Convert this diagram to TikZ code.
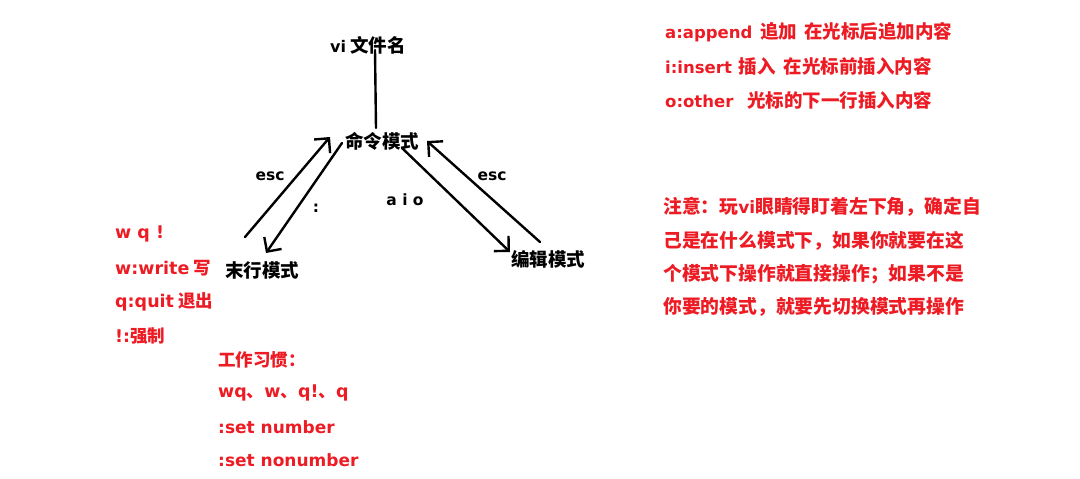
\documentclass[tikz,border=0pt]{standalone}
\usepackage{fontspec}
\setmainfont{Noto Sans CJK SC}
\newfontfamily\latfont{DejaVu Sans Bold}
\newcommand{\LT}[1]{{\latfont #1}}
\newcommand{\LTS}[2]{{\latfont\fontsize{#1}{20}\selectfont #2}}
\usetikzlibrary{arrows.meta}
\definecolor{pred}{HTML}{ED1C24}
\tikzset{
  blk/.style={inner sep=0pt, font=\fontsize{18.5}{20}\selectfont\bfseries, text=black},
  lbl/.style={inner sep=0pt, font=\fontsize{15.5}{20}\selectfont\bfseries, text=black},
  rtxt/.style={inner sep=0pt, anchor=west, font=\fontsize{#1}{20}\selectfont\bfseries, text=pred},
  rtxt/.default=17,
  pen/.style={line width=2.4pt, line cap=round, black},
  arr/.style={pen, -{Straight Barb[length=10.5pt,width=21pt,line width=2.4pt]}}
}
\begin{document}
\begin{tikzpicture}[x=1pt,y=-1pt]
\useasboundingbox[fill=white] (0,0) rectangle (1080,479);

% nodes
\node[blk] (vi) at (368,45) {\LTS{16}{vi} 文件名};
\node[blk] (cmd) at (382,141) {命令模式};
\node[blk] (last) at (262,270) {末行模式};
\node[blk] (edit) at (548,259) {编辑模式};

% helper coordinates
\coordinate (v1) at (375,50);
\coordinate (v2) at (376,128);
\coordinate (e1s) at (245,237);
\coordinate (e1t) at (330,137);
\coordinate (c1s) at (342,143);
\coordinate (c1t) at (266,253);
\coordinate (a1s) at (402,148);
\coordinate (a1t) at (510,252);
\coordinate (e2s) at (540,242);
\coordinate (e2t) at (427,141);

% connectors
\draw[pen] (v1) -- (v2);
\draw[arr] (e1s) -- (e1t);
\draw[arr] (c1s) -- (c1t);
\draw[arr] (a1s) -- (a1t);
\draw[arr] (e2s) -- (e2t);

% labels
\node[lbl] (esc1) at (270,176) {\LT{esc}};
\node[lbl] (colon) at (316,208) {\LT{:}};
\node[lbl] (aio) at (405,200) {\LT{a i o}};
\node[lbl] (esc2) at (492,176) {\LT{esc}};

% top right red text
\node[rtxt=18.5] (t1) at (665,32) {\LTS{16.5}{a:append}\hspace{8pt}追加\hspace{7pt}在光标后追加内容};
\node[rtxt=18.5] (t2) at (665,66) {\LTS{16.5}{i:insert}\hspace{7pt}插入\hspace{8pt}在光标前插入内容};
\node[rtxt=18.5] (t3) at (665,100) {\LTS{16.5}{o:other}\hspace{14pt}光标的下一行插入内容};

% note
\node[rtxt=18.8] (n1) at (663,207) {注意：玩\LTS{17}{vi}眼睛得盯着左下角，确定自};
\node[rtxt=18.8] (n2) at (663,241) {己是在什么模式下，如果你就要在这};
\node[rtxt=18.8] (n3) at (663,274) {个模式下操作就直接操作；如果不是};
\node[rtxt=18.8] (n4) at (663,307) {你要的模式，就要先切换模式再操作};

% left red text
\node[rtxt=17.5] (w1) at (115,234) {\LT{w q !}};
\node[rtxt=17.5] (w2) at (115,268) {\LT{w:write} 写};
\node[rtxt=17.5] (w3) at (115,302) {\LT{q:quit} 退出};
\node[rtxt=17.5] (w4) at (115,336) {\LT{!:}强制};

% habits
\node[rtxt=17.5] (h1) at (218,360) {工作习惯：};
\node[rtxt=17.5] (h2) at (218,393) {\LT{wq}、\LT{w}、\LT{q!}、\LT{q}};
\node[rtxt=17] (h3) at (218,427) {\LT{:set number}};
\node[rtxt=17] (h4) at (218,460) {\LT{:set nonumber}};
\end{tikzpicture}
\end{document}
